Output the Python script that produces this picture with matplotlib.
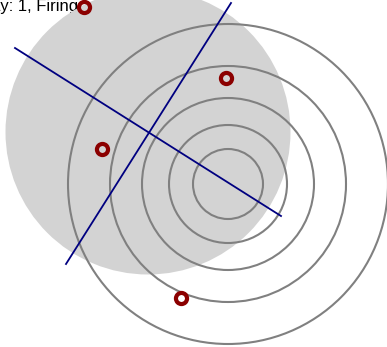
import matplotlib.pyplot as plt
from matplotlib.patches import Circle

# range rings around the target (pixel units)
ring_center = (228, 184)
ring_radii = [35, 59, 86, 118, 160]

# shaded coverage zone
zone_center = (148, 132)
zone_radius = 142.5

# bearing lines: (x0, y0, x1, y1)
line_x = [[15, 281], [231, 66]]
line_y = [[48, 216], [3, 264]]

# shot positions
shot_x = [84, 102, 226, 181]
shot_y = [7, 149, 78, 298]

label = "Day: 1, Firing"

fig = plt.figure(figsize=(3.87, 3.47), dpi=100)
ax = fig.add_axes([0, 0, 1, 1])
ax.set_xlim(0, 387)
ax.set_ylim(347, 0)
ax.set_aspect("auto")
ax.axis("off")

ax.text(-21, 10.5, label, fontsize=12, family=["Liberation Sans", "DejaVu Sans"],
        va="baseline", ha="left", zorder=0)

ax.add_patch(Circle(zone_center, zone_radius, facecolor="lightgray",
                    edgecolor="none", zorder=1))

for r in ring_radii:
    ax.add_patch(Circle(ring_center, r, facecolor="none", edgecolor="gray",
                        linewidth=1.5, zorder=2))

for xs, ys in zip(line_x, line_y):
    ax.plot(xs, ys, color="navy", linewidth=1.3, zorder=3)

ax.plot(shot_x, shot_y, "o", markersize=8, markerfacecolor="none",
        markeredgecolor="darkred", markeredgewidth=3, zorder=4)

fig.savefig("out.png", dpi=100)
